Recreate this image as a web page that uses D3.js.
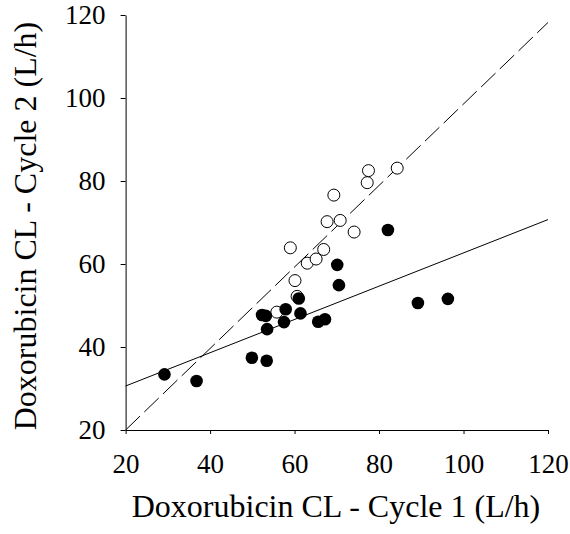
<!DOCTYPE html>
<html>
<head>
<meta charset="utf-8">
<script src="https://cdn.jsdelivr.net/npm/d3@7"></script>
<style>
  body { margin: 0; background: #fff; }
  text { font-family: "Liberation Serif", "Times New Roman", serif; fill: #000; }
</style>
</head>
<body>
<div id="chart"></div>
<script>
// cycle 1 vs cycle 2 clearance, filled points
const filledX = [29.2, 36.8, 49.9, 53.4, 52.3, 53.2, 53.5, 57.9, 57.5, 61.0, 61.4, 65.6, 67.2, 70.1, 70.5, 82.1, 89.2, 96.3];
const filledY = [33.4, 31.8, 37.4, 36.7, 47.7, 47.5, 44.3, 49.1, 46.0, 51.7, 48.1, 46.1, 46.7, 59.8, 54.9, 68.2, 50.6, 51.6];

// open points
const openX = [55.8, 60.1, 59.0, 63.0, 65.1, 66.9, 67.7, 70.8, 74.1, 69.3, 77.2, 77.5, 84.3, 60.6];
const openY = [48.4, 56.0, 63.9, 60.2, 61.2, 63.5, 70.2, 70.5, 67.7, 76.6, 79.6, 82.5, 83.1, 52.2];

// fitted lines (endpoints in data units)
const solidLine = [[20, 30.6], [120, 70.7]];
const dashedLine = [[20, 20], [120, 118.2]];

const xTicks = [20, 40, 60, 80, 100, 120];
const yTicks = [20, 40, 60, 80, 100, 120];

const width = 570;
const height = 534;
const margin = { top: 15, right: 22, bottom: 104, left: 125.6 };

const xScale = d3.scaleLinear().domain([20, 120]).range([margin.left, width - margin.right]);
const yScale = d3.scaleLinear().domain([20, 120]).range([height - margin.bottom, margin.top]);

const svg = d3.select('#chart')
  .append('svg')
  .attr('width', width)
  .attr('height', height);

// lines
const line = d3.line().x(d => xScale(d[0])).y(d => yScale(d[1]));

svg.append('path')
  .datum(dashedLine)
  .attr('d', line)
  .attr('fill', 'none')
  .attr('stroke', '#000')
  .attr('stroke-width', 1)
  .attr('stroke-dasharray', '20,6');

svg.append('path')
  .datum(solidLine)
  .attr('d', line)
  .attr('fill', 'none')
  .attr('stroke', '#000')
  .attr('stroke-width', 1);

// open circles first, filled on top
svg.append('g')
  .selectAll('circle')
  .data(openX.map((x, i) => [x, openY[i]]))
  .enter()
  .append('circle')
  .attr('cx', d => xScale(d[0]))
  .attr('cy', d => yScale(d[1]))
  .attr('r', 6)
  .attr('fill', '#fff')
  .attr('stroke', '#000')
  .attr('stroke-width', 1);

svg.append('g')
  .selectAll('circle')
  .data(filledX.map((x, i) => [x, filledY[i]]))
  .enter()
  .append('circle')
  .attr('cx', d => xScale(d[0]))
  .attr('cy', d => yScale(d[1]))
  .attr('r', 6.3)
  .attr('fill', '#000');

// axes
const xAxis = svg.append('g')
  .attr('transform', `translate(0,${height - margin.bottom})`)
  .call(d3.axisBottom(xScale).tickValues(xTicks).tickSize(4).tickPadding(20).tickSizeOuter(0));

const yAxis = svg.append('g')
  .attr('transform', `translate(${margin.left},0)`)
  .call(d3.axisLeft(yScale).tickValues(yTicks).tickSize(5).tickPadding(15).tickSizeOuter(0));

[xAxis, yAxis].forEach((g) => {
  g.attr('font-size', 27).attr('font-family', '"Liberation Serif", serif');
  g.select('.domain').attr('stroke', '#000');
  g.selectAll('.tick line').attr('stroke', '#000');
  g.selectAll('.tick text')
    .style('font-family', '"Liberation Serif", serif')
    .style('font-size', '27px')
    .attr('fill', '#000');
});

// axis titles
svg.append('text')
  .attr('x', 336)
  .attr('y', 517)
  .attr('text-anchor', 'middle')
  .style('font-size', '32px')
  .text('Doxorubicin CL - Cycle 1 (L/h)');

svg.append('text')
  .attr('transform', `translate(36,${226}) rotate(-90)`)
  .attr('text-anchor', 'middle')
  .style('font-size', '32px')
  .text('Doxorubicin CL - Cycle 2 (L/h)');
</script>
</body>
</html>
